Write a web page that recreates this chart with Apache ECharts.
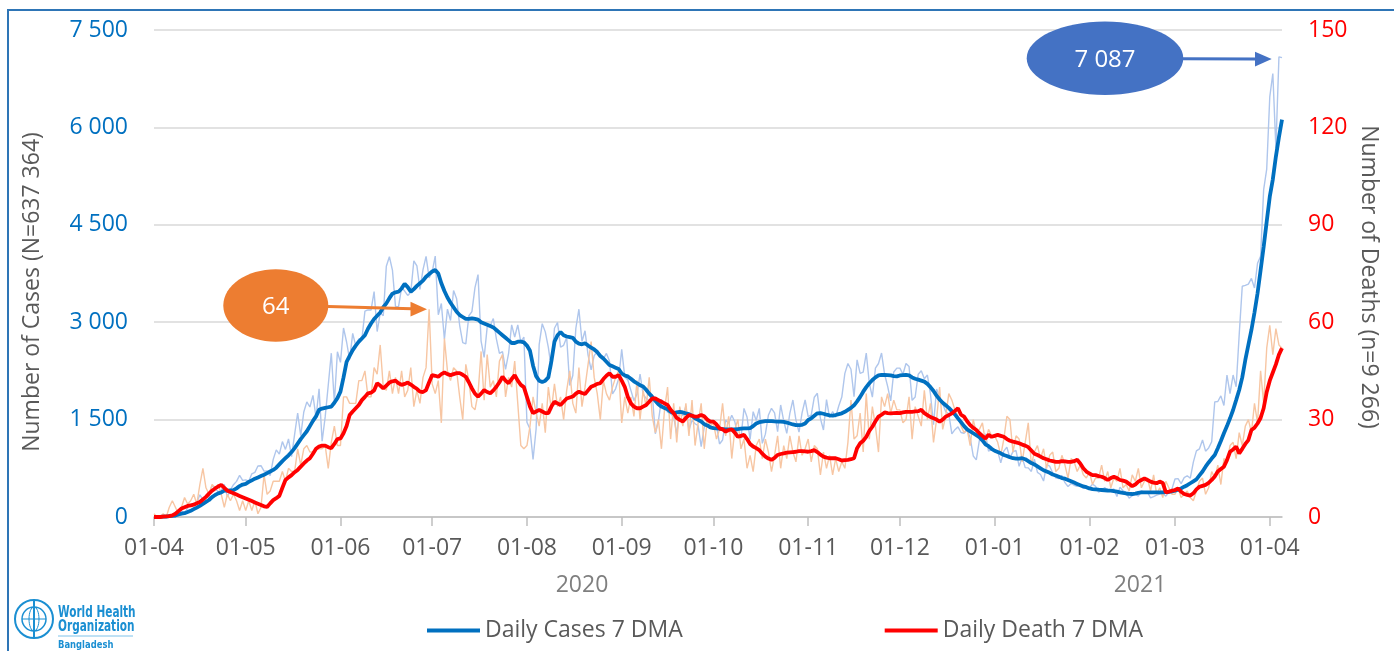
<!DOCTYPE html>
<html><head><meta charset="utf-8">
<script src="https://cdn.jsdelivr.net/npm/echarts@6/dist/echarts.min.js"></script>
<style>html,body{margin:0;padding:0;background:#fff}#c{width:1394px;height:651px}</style>
</head><body><div id="c"></div>
<script>
// ---------- DATA ----------
const startDate = [2020, 3, 1]; // 1 April 2020 (month index 3)

// Daily new cases (2020-04-01 .. 2021-04-05)
const casesDaily = [
 2,2,5,9,18,35,41,54,112,94,58,139,182,209,219,341,266,306,312,492,434,390,414,503,309,418,497,549,641,564,
 571,552,665,688,786,790,706,709,636,887,1034,969,1162,1041,1202,930,1273,1602,1251,1617,1773,1694,1873,1532,1975,1166,1541,2029,2523,1764,2545,
 2381,2911,2695,2423,2828,2635,2743,2735,3171,3190,3187,3471,2856,3141,3099,3862,4008,3803,3243,3240,3531,3480,3412,3462,3946,3868,3504,3809,4014,3682,
 3775,4019,3114,3288,2738,3201,3027,3489,3360,2949,2686,2666,3099,3163,3533,3733,2709,2459,2928,2948,3057,2744,2520,2548,2275,2520,2960,2772,2960,2695,2772,
 1459,1356,887,1356,2654,2977,2851,2611,2285,2907,2996,2617,2644,2766,2024,2179,2907,3200,2702,2868,2493,2265,2485,2545,2485,2436,2519,2401,1897,1974,2131,
 2582,2158,2111,1950,1792,1892,2202,1892,1827,1792,1892,1282,1476,1812,1724,1615,1593,1541,1275,1666,1557,1705,1340,1488,1436,1407,1083,1383,1488,1436,
 1488,1406,1125,1186,1491,1442,1567,1468,1237,1210,1673,1540,1193,1622,1486,1673,1134,1276,1572,1673,1604,1314,1725,1481,1289,1596,1802,1493,1308,1604,1802,
 1545,1568,1845,1905,1517,1340,1807,1531,1624,1540,1709,1847,2212,2364,2275,1853,2419,2213,2230,2525,2060,1847,2293,2364,2525,2198,2011,1788,2234,2293,
 2293,2198,2364,2316,1797,1848,2198,2252,2130,2186,1895,1423,1970,1847,1745,1621,1589,1281,1345,1388,1301,1290,1339,1220,940,880,1181,1198,1281,1015,1036,
 1014,1010,835,1014,1075,910,1007,1024,780,919,760,756,702,890,686,655,554,805,782,678,603,593,640,529,469,516,489,474,500,442,445,
 447,507,473,384,412,454,398,412,432,316,460,405,373,291,327,354,320,402,388,381,295,314,336,353,369,321,376,433,
 585,591,515,606,635,597,845,1018,1050,1186,1014,1064,1159,1773,1779,1865,1717,2187,1899,2187,2005,2809,3554,3567,3587,3674,3527,3908,4014,5042,5358,
 6469,6830,5683,7087,7075
];

// Daily cases, 7-day moving average
const casesMA7 = [
 2,2,3,5,7,12,16,23,39,52,59,76,95,121,145,171,201,232,262,306,339,363,378,407,407,410,413,441,476,500,
 510,540,565,590,610,630,650,675,700,725,760,810,860,905,950,1000,1060,1130,1200,1260,1320,1400,1480,1550,1650,1670,1680,1690,1700,1760,1830,
 1930,2150,2390,2480,2570,2640,2700,2750,2800,2900,2980,3050,3100,3150,3230,3290,3370,3440,3460,3470,3520,3590,3540,3470,3510,3560,3600,3640,3700,3740,
 3780,3804,3750,3600,3480,3380,3300,3230,3160,3110,3080,3050,3050,3060,3050,3040,3000,2980,2960,2940,2920,2880,2840,2800,2760,2720,2680,2680,2700,2700,2690,
 2640,2560,2330,2170,2100,2080,2100,2150,2400,2700,2800,2850,2800,2780,2770,2760,2700,2670,2660,2675,2640,2610,2580,2540,2480,2440,2390,2340,2320,2300,2280,
 2210,2180,2165,2130,2090,2060,2030,2010,1960,1900,1850,1790,1735,1700,1680,1660,1620,1600,1610,1620,1610,1595,1585,1560,1520,1495,1470,1430,1410,1380,
 1370,1365,1360,1355,1350,1350,1350,1350,1355,1360,1365,1365,1370,1400,1440,1460,1470,1478,1478,1475,1472,1470,1468,1465,1455,1440,1425,1415,1415,1420,1440,
 1494,1520,1560,1597,1600,1590,1575,1565,1560,1570,1585,1597,1620,1650,1680,1720,1780,1850,1930,2000,2060,2110,2150,2180,2187,2187,2185,2180,2170,2165,
 2180,2185,2187,2180,2150,2130,2115,2100,2085,2050,2000,1940,1870,1810,1760,1720,1680,1630,1580,1520,1460,1400,1350,1320,1290,1260,1230,1180,1120,1090,1050,
 1020,1000,980,955,940,920,905,900,900,905,890,860,830,810,780,750,720,700,680,655,640,620,600,590,570,550,530,510,490,470,460,
 440,430,425,420,416,412,408,406,400,390,380,370,362,356,354,360,370,378,380,380,380,380,380,380,380,382,385,395,
 406,420,440,467,490,520,550,580,640,700,775,840,900,955,1060,1170,1289,1400,1520,1648,1800,1956,2150,2418,2650,2880,3150,3445,3800,4163,4550,
 4933,5200,5550,5850,6120
];

// Daily deaths
const deathsDaily = [
 1,0,0,1,0,3,5,3,1,3,6,4,5,7,4,10,15,9,7,10,9,10,7,3,7,5,7,5,2,5,
 2,5,2,5,1,3,13,7,8,11,11,11,14,11,15,14,14,21,16,21,22,20,20,21,21,21,22,15,23,28,22,
 22,37,37,35,35,35,42,42,45,37,37,46,44,53,40,39,45,38,43,38,45,37,39,46,34,39,35,43,46,64,
 41,38,42,29,55,45,42,46,45,37,30,47,42,34,33,38,51,36,50,40,42,37,48,50,37,43,40,48,35,22,21,
 22,28,37,32,28,35,26,40,33,41,34,37,30,39,45,35,32,46,34,40,47,54,43,38,30,42,38,36,40,43,45,
 29,37,32,37,31,42,30,39,34,43,31,26,30,21,33,40,24,35,23,34,28,35,25,36,22,29,35,21,30,28,
 29,24,27,35,25,31,18,27,30,21,24,15,19,14,22,24,18,24,20,14,19,25,15,22,18,25,20,17,25,19,21,
 24,17,22,21,13,20,15,19,13,18,14,17,15,23,36,24,25,32,20,38,24,34,28,20,37,34,38,32,36,33,
 33,29,30,37,24,34,31,28,39,30,35,23,30,40,27,31,38,36,33,31,28,26,27,22,30,26,27,29,23,27,25,
 25,23,19,24,31,30,20,25,24,17,23,29,16,20,22,18,21,15,19,20,14,15,19,16,12,18,17,14,16,13,12,
 14,10,12,12,16,11,14,9,12,11,15,9,10,8,13,11,15,9,11,12,8,13,7,9,6,11,9,7,
 7,9,6,7,8,6,5,8,11,12,7,9,14,12,16,10,18,17,22,23,18,26,22,28,30,26,35,29,45,35,52,
 59,50,58,53,52
];

// Daily deaths, 7-day moving average
const deathsMA7 = [
 0,0,0,0.1,0.2,0.3,0.5,1,1.8,2.6,3,3.4,3.6,3.8,4.2,4.6,5.4,6.2,7.2,8.1,8.8,9.4,9.9,9,8.1,7.7,7.3,6.9,6.5,6.1,
 5.7,5.3,4.9,4.5,4.1,3.7,3.3,3.1,4.2,5.2,5.8,6.5,9,11.4,12.2,12.9,13.8,14.5,15.5,16.5,17.4,18.1,19.5,21,21.7,22,22,21.5,21.2,22.5,24,
 24.2,25.8,28,31.4,32.5,33.5,34.5,36,37,38.1,38.3,39,41.2,40.5,39.6,40.5,41.4,41.8,42,41.2,40.7,41,41.4,40.8,40.1,39.5,38.6,38.5,39.1,41.5,
 43.7,43.5,43.2,44,44.5,44,43.7,44,44.3,44.3,43.8,43.2,41.5,39.6,38,37.1,38,39.1,38.5,38.1,39,40.1,41.5,43.2,42,41.2,42.5,43.7,42,40.7,40,
 37,34,32,32.5,33,32.5,32,32,34,35.5,35,34.5,35.5,36.5,36.8,37.1,38,38.6,38.2,37.9,39,40.1,40.5,41,41.2,42.5,43.5,44.3,43.2,43.2,43.7,
 42,40.1,37,35,34,33.5,33.5,34,34.5,35.5,36.5,36.5,36,35.5,35,34.5,33,32,30.5,29.9,29.4,30.5,31.4,31.2,30.9,31,31.4,31,30,29.4,
 29.4,28.5,27.3,27,26.3,26.8,27,26,24.7,25,25.3,24,22.5,21.7,21.2,20.6,19.5,18.6,18,17.6,18.2,19.1,19.4,19.6,19.8,19.9,20,20.1,20.3,20.3,20.2,
 20.1,20.3,20.6,20,19.2,18.6,18.3,18.1,18.1,18.1,17.8,17.4,17.5,17.6,17.8,18.1,21.2,22.7,23.5,24.7,26.5,27.8,29.5,30.9,31.5,32.2,32,31.9,32,32.1,
 32,32.2,32.4,32.4,32.4,32.5,32.6,33,32,31.4,30.8,30.4,30,29.4,30,30.9,31.4,31.9,32.7,33.5,31.5,30.9,29.5,28.3,27.5,26.8,25.8,25,24.2,25.3,24.7,
 25,25.3,25,24.7,24,23.5,23.2,23,22.7,22.3,22,21.5,20.5,19.5,19.1,18.6,18.1,17.8,17.4,17.2,17,17,17.2,17.1,17,17,17.2,17.6,16.5,15,14,
 13.4,12.9,12.9,12.6,12.4,12,11.4,12,12.4,12,11.4,11.2,10.9,10.2,9.5,10,10.9,11.4,11.9,11.4,10.9,10.6,10.4,10.9,10.5,7.6,7.8,8.1,
 8.3,8.8,7.8,7.1,6.8,6.6,7.3,8.5,9.3,9.6,9.9,10.5,11.4,12.5,14,14.8,15.5,17.5,20.1,20.8,21.7,19.6,21,22.5,23.7,26.8,27.5,28.8,30.5,33.5,38.5,
 42,44.5,47,50,52
];

const seriesNames = ['Daily Cases', 'Daily Death', 'Daily Cases 7 DMA', 'Daily Death 7 DMA'];
const yearLabels = ['2020', '2021'];
const leftAxisName = 'Number of Cases (N=637 364)';
const rightAxisName = 'Number of Deaths (n=9 266)';
const calloutDeaths = '64';
const calloutCases = '7 087';

// ---------- BUILD ----------
const dates = [];
for (let i = 0; i < casesDaily.length; i++) {
  const d = new Date(Date.UTC(startDate[0], startDate[1], startDate[2] + i));
  dates.push(d.toISOString().slice(0, 10));
}
const isMonthStart = (idx, v) => (v || dates[idx]).slice(8, 10) === '01';
const fmtThousands = v => String(v).replace(/\B(?=(\d{3})+(?!\d))/g, ' ');
const FONT = '"Open Sans", "Noto Sans", sans-serif';
const LOGOFONT = '"DejaVu Sans Condensed", "Liberation Sans Narrow", sans-serif';
const GRAY = '#595959';
const WHO = '#1B8FD2';

const chart = echarts.init(document.getElementById('c'), null, {renderer: 'canvas'});
chart.setOption({
  animation: false,
  backgroundColor: '#ffffff',
  textStyle: {fontFamily: FONT},
  grid: {left: 154, right: 112, top: 30, bottom: 134, containLabel: false},
  legend: {
    data: [seriesNames[2], seriesNames[3]],
    left: 422, top: 614,
    icon: 'rect', itemWidth: 53, itemHeight: 4, itemGap: 202,
    selectedMode: false,
    textStyle: {color: GRAY, fontSize: 23, fontFamily: FONT}
  },
  xAxis: {
    type: 'category',
    data: dates,
    boundaryGap: false,
    axisLine: {lineStyle: {color: '#BFBFBF', width: 1.5}},
    axisTick: {show: true, interval: (i, v) => isMonthStart(i, v), length: 9, lineStyle: {color: '#BFBFBF', width: 1.5}},
    axisLabel: {
      interval: (i, v) => isMonthStart(i, v),
      formatter: v => v.slice(8, 10) + '-' + v.slice(5, 7),
      color: GRAY, fontSize: 23, fontFamily: FONT, margin: 20
    },
    splitLine: {show: false}
  },
  yAxis: [
    {
      type: 'value', min: 0, max: 7500, interval: 1500,
      axisLine: {show: false}, axisTick: {show: false},
      axisLabel: {color: '#0070C0', fontSize: 23, fontFamily: FONT, margin: 26, formatter: fmtThousands},
      splitLine: {lineStyle: {color: '#D9D9D9', width: 1.5}}
    },
    {
      type: 'value', min: 0, max: 150, interval: 30, position: 'right',
      axisLine: {show: false}, axisTick: {show: false},
      axisLabel: {color: '#FF0000', fontSize: 23, fontFamily: FONT, margin: 26},
      splitLine: {show: false}
    }
  ],
  series: [
    {name: seriesNames[0], type: 'line', data: casesDaily, yAxisIndex: 0, showSymbol: false,
     lineStyle: {color: '#AFC6EC', width: 1.4}, itemStyle: {color: '#AFC6EC'}, z: 1},
    {name: seriesNames[1], type: 'line', data: deathsDaily, yAxisIndex: 1, showSymbol: false,
     lineStyle: {color: '#F7C6A3', width: 1.4}, itemStyle: {color: '#F7C6A3'}, z: 2},
    {name: seriesNames[2], type: 'line', data: casesMA7, yAxisIndex: 0, showSymbol: false,
     lineStyle: {color: '#0070C0', width: 3.8}, itemStyle: {color: '#0070C0'}, z: 3},
    {name: seriesNames[3], type: 'line', data: deathsMA7, yAxisIndex: 1, showSymbol: false,
     lineStyle: {color: '#FF0000', width: 3.8}, itemStyle: {color: '#FF0000'}, z: 4}
  ],
  graphic: [
    // outer frame
    {type: 'rect', shape: {x: 8, y: 10, width: 1420, height: 700}, style: {fill: 'none', stroke: '#2E75B6', lineWidth: 2}, silent: true},
    // axis names
    {type: 'text', x: 32, y: 292, rotation: Math.PI / 2,
     style: {text: leftAxisName, fill: GRAY, font: '23px ' + FONT, align: 'center', verticalAlign: 'middle'}},
    {type: 'text', x: 1369, y: 277, rotation: -Math.PI / 2,
     style: {text: rightAxisName, fill: GRAY, font: '23px ' + FONT, align: 'center', verticalAlign: 'middle'}},
    // year labels
    {type: 'text', x: 582, y: 585, style: {text: yearLabels[0], fill: '#7F7F7F', font: '23px ' + FONT, align: 'center', verticalAlign: 'middle'}},
    {type: 'text', x: 1140, y: 585, style: {text: yearLabels[1], fill: '#7F7F7F', font: '23px ' + FONT, align: 'center', verticalAlign: 'middle'}},
    // orange callout
    {type: 'ellipse', shape: {cx: 275.8, cy: 305.5, rx: 52.5, ry: 36.2}, style: {fill: '#ED7D31'}, z: 10},
    {type: 'text', x: 275.8, y: 307, z: 11, style: {text: calloutDeaths, fill: '#fff', font: '24px ' + FONT, align: 'center', verticalAlign: 'middle'}},
    {type: 'line', shape: {x1: 328, y1: 306.5, x2: 412, y2: 308.8}, style: {stroke: '#ED7D31', lineWidth: 3}, z: 10},
    {type: 'polygon', shape: {points: [[410.5, 301.7], [427, 309.2], [410.5, 316.5]]}, style: {fill: '#ED7D31'}, z: 10},
    // blue callout
    {type: 'ellipse', shape: {cx: 1105, cy: 58.3, rx: 78.3, ry: 36.7}, style: {fill: '#4472C4'}, z: 10},
    {type: 'text', x: 1105, y: 60, z: 11, style: {text: calloutCases, fill: '#fff', font: '24px ' + FONT, align: 'center', verticalAlign: 'middle'}},
    {type: 'line', shape: {x1: 1183, y1: 58.7, x2: 1257, y2: 58.9}, style: {stroke: '#4472C4', lineWidth: 3}, z: 10},
    {type: 'polygon', shape: {points: [[1255, 51.7], [1271.7, 59], [1255, 66.5]]}, style: {fill: '#4472C4'}, z: 10},
    // WHO logo (approximation)
    {type: 'group', children: [
      {type: 'circle', shape: {cx: 34, cy: 619, r: 19}, style: {fill: 'none', stroke: WHO, lineWidth: 2}},
      {type: 'circle', shape: {cx: 34, cy: 619, r: 12}, style: {fill: 'none', stroke: WHO, lineWidth: 1.5}},
      {type: 'ellipse', shape: {cx: 34, cy: 619, rx: 5, ry: 12}, style: {fill: 'none', stroke: WHO, lineWidth: 1}},
      {type: 'line', shape: {x1: 22, y1: 619, x2: 46, y2: 619}, style: {stroke: WHO, lineWidth: 1}},
      {type: 'line', shape: {x1: 34, y1: 600, x2: 34, y2: 638}, style: {stroke: WHO, lineWidth: 2}},
      {type: 'text', x: 58, y: 613, scaleX: 0.78, style: {text: 'World Health', fill: WHO, font: 'bold 15px ' + LOGOFONT, verticalAlign: 'middle'}},
      {type: 'text', x: 58, y: 627, scaleX: 0.78, style: {text: 'Organization', fill: WHO, font: 'bold 15px ' + LOGOFONT, verticalAlign: 'middle'}},
      {type: 'line', shape: {x1: 58, y1: 636, x2: 133, y2: 636}, style: {stroke: '#7FC3EA', lineWidth: 1}},
      {type: 'text', x: 58, y: 645, scaleX: 0.85, style: {text: 'Bangladesh', fill: WHO, font: 'bold 11px ' + LOGOFONT, verticalAlign: 'middle'}}
    ]}
  ]
});
</script>
</body></html>
